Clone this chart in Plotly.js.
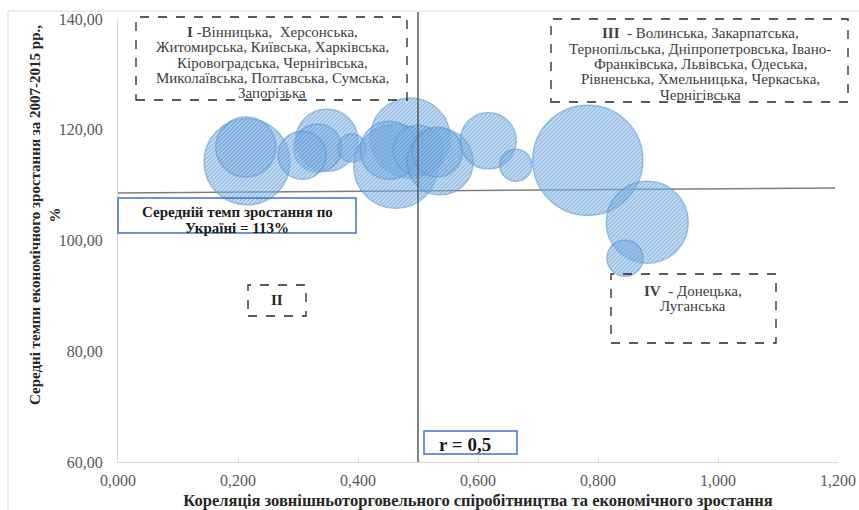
<!DOCTYPE html>
<html>
<head>
<meta charset="utf-8">
<script src="https://cdn.plot.ly/plotly-3.0.1.min.js"></script>
<style>
  html, body { margin: 0; padding: 0; background: #ffffff; }
  #chart { width: 859px; height: 510px; }
</style>
</head>
<body>
<div id="chart"></div>
<script>
// ---- data ----
const regionX    = [0.215, 0.213, 0.348, 0.333, 0.307, 0.390, 0.487, 0.463, 0.452, 0.500, 0.537, 0.532, 0.617, 0.663, 0.783, 0.882, 0.845];
const regionY    = [114.2, 116.9, 118.1, 116.7, 115.4, 116.7, 118.5, 113.4, 116.3, 116.3, 114.2, 116.0, 118.0, 113.6, 114.5, 103.3, 96.8];
const bubbleSize = [86, 60, 62, 48, 48, 28, 80, 84, 58, 50, 66, 50, 56, 32, 110, 82, 36];

const xTickVals = [0, 0.2, 0.4, 0.6, 0.8, 1.0, 1.2];
const yTickVals = [60, 80, 100, 120, 140];

const rThreshold = 0.5;          // r = 0,5
const avgLineX  = [0, 1.195];     // average growth line (slightly tilted in the original)
const avgLineY  = [108.6, 109.5];

const quadrantI   = ["<b>І</b> -Вінницька,  Херсонська,", "Житомирська, Київська, Харківська,", "Кіровоградська, Чернігівська,", "Миколаївська, Полтавська, Сумська,", "Запорізька"];
const quadrantII  = ["<b>ІІ</b>"];
const quadrantIII = ["<b>ІІІ</b>  - Волинська, Закарпатська,", "Тернопільська, Дніпропетровська, Івано-", "Франківська, Львівська, Одеська,", "Рівненська, Хмельницька, Черкаська,", "Чернігівська"];
const quadrantIV  = ["<b>IV</b>  - Донецька,", "Луганська"];
const avgText     = ["<b>Середній темп зростання по</b>", "<b>Україні = 113%</b>"];
const rText       = ["<b>r = 0,5</b>"];
const xTitle = "Кореляція зовнішньоторговельного спіробітництва та економічного зростання";
const yTitle = "Середні темпи економічного зростання за 2007-2015 рр.,<br>%";

// ---- layout helpers (pixel -> paper) ----
const L = 118, R = 838, T = 19, B = 462;
const px = x => (x - L) / (R - L);
const py = y => (B - y) / (B - T);
const serif = "Liberation Serif";

function box(x0, y0, x1, y1, color, dash, w) {
  return { type: 'rect', xref: 'paper', yref: 'paper',
    x0: px(x0), x1: px(x1), y0: py(y1), y1: py(y0),
    line: { color: color, width: w || 1.3, dash: dash || 'solid' }, fillcolor: 'rgba(0,0,0,0)', layer: 'above' };
}
function lines(arr, cx, y0, dy, size, color) {
  return arr.map((t, i) => ({ xref: 'paper', yref: 'paper', x: px(cx), y: py(y0 + i * dy), text: t,
    showarrow: false, xanchor: 'center', yanchor: 'middle', align: 'center',
    font: { family: serif, size: size, color: color } }));
}

const trace = {
  type: 'scatter', mode: 'markers',
  x: regionX, y: regionY,
  marker: {
    size: bubbleSize, sizemode: 'diameter', sizeref: 1,
    color: 'rgba(130,180,230,0.6)',
    line: { color: 'rgba(91,155,213,0.95)', width: 1.5 }
  },
  hoverinfo: 'skip', cliponaxis: true
};

const lineTrace = {
  type: 'scatter', mode: 'lines', x: avgLineX, y: avgLineY,
  line: { color: '#7f7f7f', width: 1.5 }, hoverinfo: 'skip'
};

const layout = {
  width: 859, height: 510,
  margin: { l: L, r: 859 - R, t: T, b: 510 - B },
  paper_bgcolor: '#ffffff', plot_bgcolor: '#ffffff',
  showlegend: false,
  separators: ', ',
  font: { family: serif, color: '#595959', size: 13 },
  xaxis: {
    range: [0, 1.2], tickvals: xTickVals, tickformat: '.3f',
    showgrid: false, zeroline: false, showline: true, linecolor: '#d9d9d9', linewidth: 1,
    ticks: 'inside', ticklen: 4, tickcolor: '#d9d9d9', ticklabelstandoff: 4,
    tickfont: { family: serif, size: 16, color: '#595959' },
    title: { text: '<b>' + xTitle + '</b>', font: { family: serif, size: 16.5, color: '#262626' }, standoff: 9 }
  },
  yaxis: {
    range: [60, 140], tickvals: yTickVals, tickformat: '.2f',
    showgrid: false, zeroline: false, showline: true, linecolor: '#d9d9d9', linewidth: 1,
    ticks: '', ticklabelstandoff: 11, tickfont: { family: serif, size: 16, color: '#595959' }
  },
  shapes: [
    // outer chart frame
    { type: 'rect', xref: 'paper', yref: 'paper', x0: px(8), x1: px(900), y0: py(560), y1: py(11),
      line: { color: '#d9d9d9', width: 1 }, layer: 'below' },
    // r = 0,5 vertical line
    { type: 'line', xref: 'x', yref: 'paper', x0: rThreshold, x1: rThreshold, y0: 0, y1: py(12),
      line: { color: '#595959', width: 1.5 }, layer: 'above' },
    box(136, 17, 407, 100, '#262626', 'dash'),
    box(551, 19, 848, 102, '#262626', 'dash'),
    box(248, 285, 306, 316, '#262626', 'dash'),
    box(611, 274, 776, 343, '#262626', 'dash'),
    box(118, 198, 356, 233, '#4472c4', 'solid', 1.5),
    box(424, 431, 517, 454, '#4472c4', 'solid', 1.5)
  ],
  annotations: [].concat(
    lines(quadrantI, 272, 32, 15.3, 15, '#404040'),
    lines(quadrantIII, 700, 33, 15.5, 15, '#404040'),
    lines(quadrantII, 277, 300, 0, 15, '#262626'),
    lines(quadrantIV, 693, 291, 14.5, 15, '#404040'),
    lines(avgText, 237, 212, 16.5, 15, '#1a1a1a'),
    lines(rText, 465, 444, 0, 19, '#1a1a1a'),
    [{ xref: 'paper', yref: 'paper', x: px(45), y: py(215), text: '<b>' + yTitle + '</b>', showarrow: false,
      textangle: -90, xanchor: 'center', yanchor: 'middle', align: 'center',
      font: { family: serif, size: 15, color: '#262626' } }]
  )
};

Plotly.newPlot('chart', [lineTrace, trace], layout, { staticPlot: true, displayModeBar: false }).then(function (gd) {
  // hatched fill like the original
  const svg = gd.querySelector('svg.main-svg');
  const ns = 'http://www.w3.org/2000/svg';
  let defs = svg.querySelector('defs');
  if (!defs) { defs = document.createElementNS(ns, 'defs'); svg.insertBefore(defs, svg.firstChild); }
  const pat = document.createElementNS(ns, 'pattern');
  pat.setAttribute('id', 'bubbleHatch');
  pat.setAttribute('patternUnits', 'userSpaceOnUse');
  pat.setAttribute('width', '4'); pat.setAttribute('height', '4');
  const bg = document.createElementNS(ns, 'rect');
  bg.setAttribute('width', '4'); bg.setAttribute('height', '4');
  bg.setAttribute('fill', 'rgba(172,206,240,0.7)');
  pat.appendChild(bg);
  const st = document.createElementNS(ns, 'path');
  st.setAttribute('d', 'M-1,1 l2,-2 M0,4 l4,-4 M3,5 l2,-2');
  st.setAttribute('stroke', 'rgba(86,150,212,0.95)');
  st.setAttribute('stroke-width', '1.5');
  pat.appendChild(st);
  defs.appendChild(pat);
  gd.querySelectorAll('.scatterlayer .trace:last-child .point').forEach(function (p) {
    p.style.fill = 'url(#bubbleHatch)';
    p.style.fillOpacity = '1';
  });
});
</script>
</body>
</html>
